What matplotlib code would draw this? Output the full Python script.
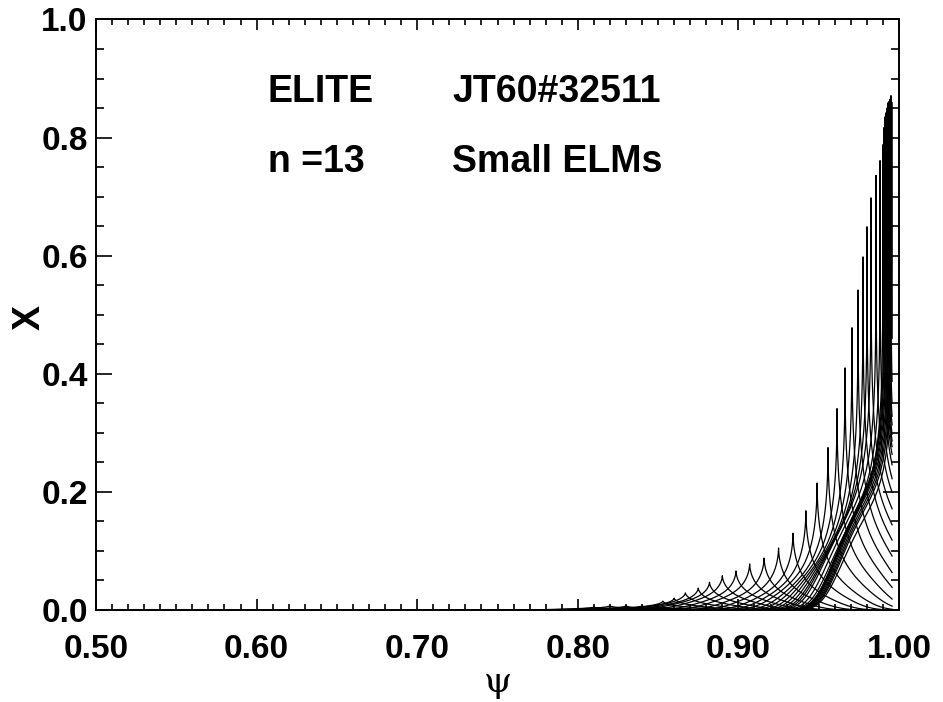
import numpy as np
import matplotlib
matplotlib.use('agg')
import matplotlib.pyplot as plt
from matplotlib.ticker import MultipleLocator, FormatStrFormatter

# peak position (rational surfaces) and peak amplitude of each harmonic
psi_peak = [0.810, 0.820, 0.830, 0.840, 0.8456, 0.853, 0.860, 0.867, 0.875, 0.882,
            0.890, 0.8985, 0.907, 0.916, 0.925, 0.934, 0.942, 0.949, 0.9558, 0.9614,
            0.9664, 0.9707, 0.9745, 0.9776, 0.9801, 0.9826, 0.9857, 0.9882, 0.9900, 0.9907,
            0.9913, 0.9919, 0.9925, 0.9932, 0.9938, 0.9944, 0.9950, 0.9955]
amp_peak = [0.005, 0.007, 0.007, 0.007, 0.008, 0.015, 0.020, 0.029, 0.037, 0.047,
            0.058, 0.066, 0.078, 0.088, 0.105, 0.130, 0.168, 0.215, 0.275, 0.341,
            0.410, 0.478, 0.542, 0.598, 0.649, 0.698, 0.736, 0.761, 0.788, 0.817,
            0.835, 0.842, 0.850, 0.859, 0.861, 0.865, 0.871, 0.860]
psi_edge = 0.9957   # last grid point of the run

xticks = [0.50, 0.60, 0.70, 0.80, 0.90, 1.00]
yticks = [0.0, 0.2, 0.4, 0.6, 0.8, 1.0]

plt.rcParams['font.family'] = ['Liberation Sans', 'DejaVu Sans']
plt.rcParams['font.weight'] = 'bold'

W, H = 943, 702
fig = plt.figure(figsize=(W / 100, H / 100), dpi=100)
ax = fig.add_axes([96 / W, 1 - 610 / H, (899 - 96) / W, (610 - 19.5) / H])

# harmonic shape: cusp at the surface, narrower towards the edge, cut far away
w0, lpsi = 0.009, 0.037
grid = np.union1d(np.linspace(0.70, psi_edge, 40000), psi_peak)
for p0, a in zip(psi_peak, amp_peak):
    d = np.abs(grid - p0)
    pw = 0.65 - 0.5 * a
    w = w0 * np.sqrt((psi_edge + 0.002 - p0) / 0.063)
    y = a * np.exp(-(d / w) ** pw) * np.exp(-(d / lpsi) ** 4)
    ax.plot(grid, y, color='black', lw=0.9)

ax.set_xlim(0.5, 1.0)
ax.set_ylim(0.0, 1.0)
ax.set_xticks(xticks)
ax.set_yticks(yticks)
ax.xaxis.set_minor_locator(MultipleLocator(0.01))
ax.yaxis.set_minor_locator(MultipleLocator(0.05))
ax.xaxis.set_major_formatter(FormatStrFormatter('%.2f'))
ax.yaxis.set_major_formatter(FormatStrFormatter('%.1f'))
ax.tick_params(which='both', direction='in', top=True, right=True, width=1.2,
               labelsize=24)
ax.tick_params(axis='x', which='major', length=8, pad=17)
ax.tick_params(axis='x', which='minor', length=4)
ax.tick_params(axis='y', which='major', length=11.5, pad=6)
ax.tick_params(axis='y', which='minor', length=6)
for s in ax.spines.values():
    s.set_linewidth(1.4)

ax.set_xlabel('ψ', family='DejaVu Serif', fontweight='normal', fontsize=26, labelpad=0)
ax.set_ylabel('X', fontsize=27, fontweight='bold')
ax.yaxis.set_label_coords(-0.06, 0.495)


def ptext(x, y, s):
    fig.text(x / W, 1 - y / H, s, fontsize=27, ha='left', va='baseline')


ptext(268, 102, 'ELITE')
ptext(452, 102, 'JT60#32511')
ptext(268, 172, 'n =13')
ptext(452, 172, 'Small ELMs')

fig.savefig('out.png', dpi=100)
